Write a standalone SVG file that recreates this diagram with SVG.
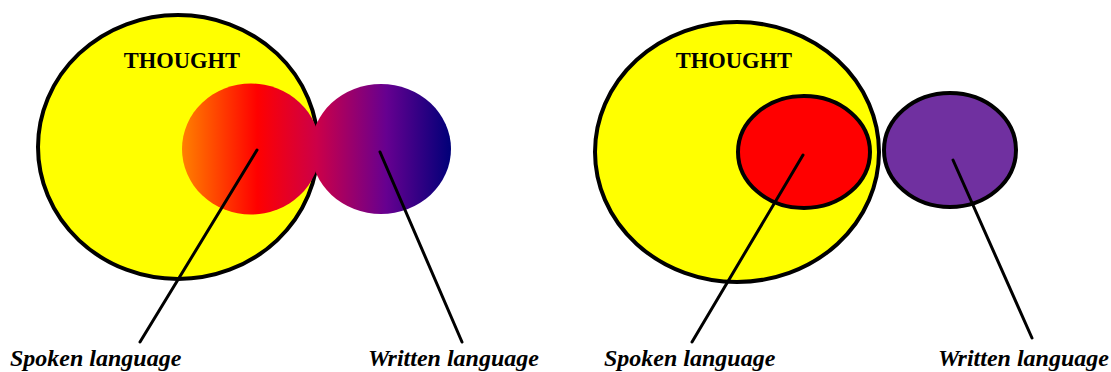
<svg xmlns="http://www.w3.org/2000/svg" width="1111" height="372" viewBox="0 0 1111 372">
  <defs>
    <linearGradient id="blend" gradientUnits="userSpaceOnUse" x1="182" y1="0" x2="451" y2="0">
      <stop offset="0" stop-color="#ff8000"/>
      <stop offset="0.28" stop-color="#ff0000"/>
      <stop offset="0.5" stop-color="#cc0048"/>
      <stop offset="0.76" stop-color="#660090"/>
      <stop offset="1" stop-color="#000078"/>
    </linearGradient>
    <style>
      .thought { fill: #ffff00; stroke: #000; stroke-width: 4; }
      .lang { stroke: #000; stroke-width: 4; }
      .pointer { stroke: #000; stroke-width: 3; fill: none; stroke-linecap: round; }
      .title { font-family: "Liberation Serif", "Times New Roman", serif; font-weight: bold; font-size: 22.5px; fill: #000; text-anchor: middle; }
      .label { font-family: "Liberation Serif", "Times New Roman", serif; font-weight: bold; font-style: italic; font-size: 24px; fill: #000; }
    </style>
  </defs>

  <rect width="1111" height="372" fill="#ffffff"/>

  <!-- Left: spoken and written language blended together -->
  <g id="thought-left">
    <ellipse class="thought" cx="178" cy="147" rx="140" ry="132"/>
    <text class="title" x="182" y="68">THOUGHT</text>
  </g>
  <g id="languages-left">
    <ellipse cx="251" cy="149" rx="69" ry="65.5" fill="url(#blend)"/>
    <ellipse cx="381" cy="149" rx="70" ry="65" fill="url(#blend)"/>
  </g>

  <!-- Right: spoken language inside thought, written language apart -->
  <g id="thought-right">
    <ellipse class="thought" cx="737" cy="152" rx="142" ry="130"/>
    <text class="title" x="734" y="68">THOUGHT</text>
  </g>
  <g id="spoken-right">
    <ellipse class="lang" cx="804" cy="152" rx="66" ry="56" fill="#ff0000"/>
  </g>
  <g id="written-right">
    <ellipse class="lang" cx="950" cy="150" rx="66" ry="57" fill="#7030a0"/>
  </g>

  <!-- Pointer lines to labels -->
  <g id="connectors">
    <line class="pointer" x1="257" y1="150" x2="140" y2="342"/>
    <line class="pointer" x1="380" y1="152" x2="462" y2="342"/>
    <line class="pointer" x1="803" y1="155" x2="692" y2="342"/>
    <line class="pointer" x1="953" y1="160" x2="1032" y2="338"/>
  </g>

  <g id="labels">
    <text class="label" x="10" y="366">Spoken language</text>
    <text class="label" x="368" y="366">Written language</text>
    <text class="label" x="604" y="366">Spoken language</text>
    <text class="label" x="938" y="366">Written language</text>
  </g>
</svg>
